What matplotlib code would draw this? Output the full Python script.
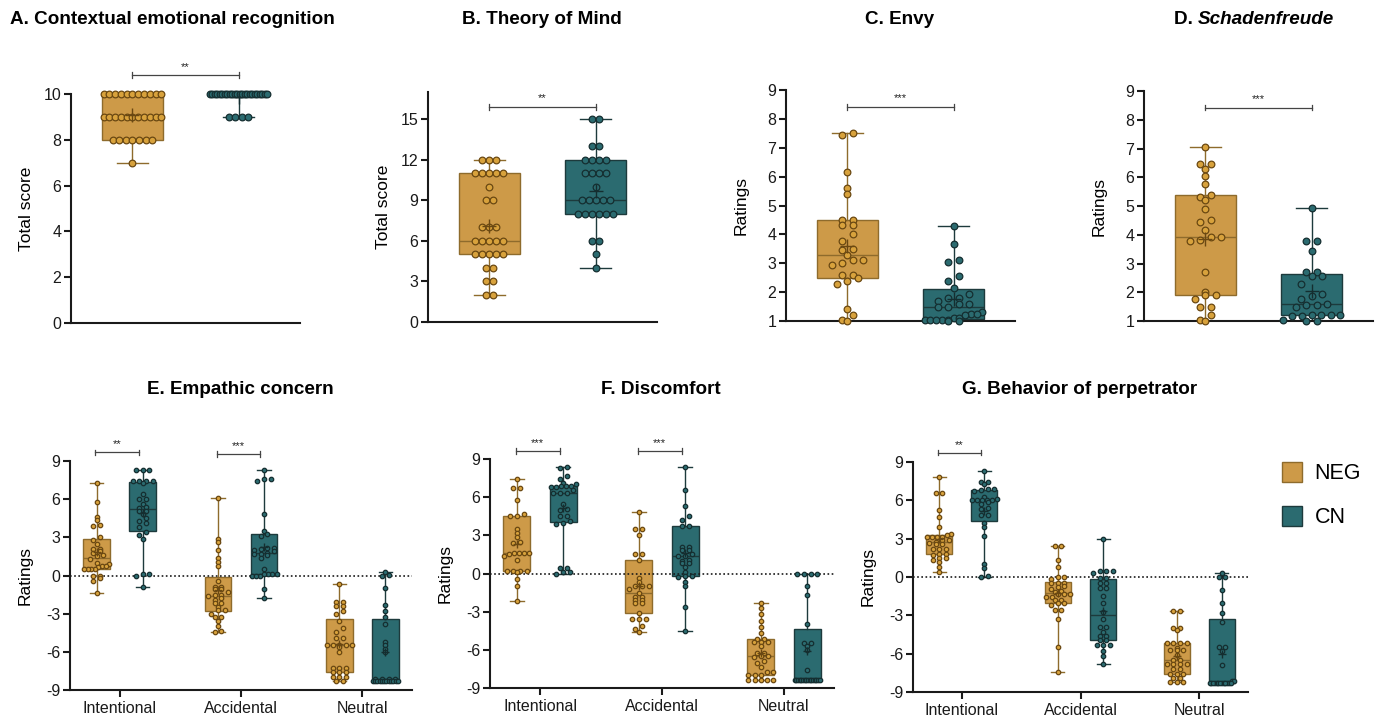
import numpy as np
import matplotlib
matplotlib.use("Agg")
import matplotlib.pyplot as plt
from matplotlib.patches import Patch

plt.rcParams['font.family'] = ['Liberation Sans', 'DejaVu Sans']
plt.rcParams['axes.unicode_minus'] = False

# ── data ───────────────────────────────────────────────────
groups = ["NEG", "CN"]
conditions = ["Intentional", "Accidental", "Neutral"]

# A. Contextual emotional recognition (total score)
ecr_neg = [10, 10, 10, 10, 10, 10, 10, 10, 10, 10, 10,
           9, 9, 9, 9, 9, 9, 9, 9, 9, 9, 9,
           8, 8, 8, 8, 8, 8, 8, 7]
ecr_cn = [10, 10, 10, 10, 10, 10, 10, 10, 10, 10, 10, 10,
          10, 10, 10, 10, 10, 10, 10, 10, 10, 10, 10, 10,
          9, 9, 9, 9]

# B. Theory of Mind (total score)
tom_neg = [12, 12, 12, 11, 11, 11, 11, 11, 10, 9, 9, 7, 7, 7,
           6, 6, 6, 6, 6, 5, 5, 5, 5, 5, 4, 4, 3, 3, 2, 2]
tom_cn = [15, 15, 13, 13, 12, 12, 12, 12, 11, 11, 11, 11, 10,
          9, 9, 9, 9, 9, 8, 8, 8, 8, 8, 8, 6, 6, 5, 4]

# C. Envy (ratings)
envy_neg = [7.45, 7.5, 6.17, 5.6, 5.4, 4.5, 4.5, 4.33, 4.33, 4.0, 3.78,
            3.45, 3.5, 3.28, 3.1, 3.1, 3.0, 2.95, 2.6, 2.6, 2.5, 2.4,
            2.28, 1.4, 1.2, 1.05, 1.0]
envy_cn = [4.28, 3.67, 3.1, 3.05, 2.55, 2.4, 2.15, 1.93, 1.78, 1.78, 1.68,
           1.6, 1.6, 1.5, 1.5, 1.3, 1.25, 1.25, 1.22, 1.12, 1.12,
           1.05, 1.05, 1.05, 1.05, 1.05, 1.0, 1.0]

# D. Schadenfreude (ratings)
schad_neg = [7.05, 6.45, 6.45, 6.27, 6.05, 5.78, 5.4, 5.32, 5.2, 4.9,
             4.5, 4.45, 4.18, 3.93, 3.93, 3.83, 3.78, 2.72, 2.0, 1.9,
             1.9, 1.78, 1.5, 1.5, 1.22, 1.05, 1.0]
schad_cn = [4.93, 3.78, 3.78, 3.45, 2.72, 2.72, 2.55, 2.55, 2.27, 1.93,
            1.88, 1.78, 1.6, 1.55, 1.55, 1.5, 1.22, 1.22, 1.22, 1.22,
            1.18, 1.18, 1.05, 1.0, 1.0]

# E. Empathic concern
emp_int_neg = [7.3, 5.8, 4.6, 4.4, 4.0, 3.9, 3.05, 2.8, 2.5, 2.1, 2.1, 1.8,
               1.9, 1.6, 1.5, 1.3, 1.0, 0.9, 0.75, 0.75, 0.65, 0.55, 0.55,
               0.55, 0.55, 0.0, 0.0, -0.2, -0.45, -1.4]
emp_int_cn = [8.3, 8.3, 8.3, 7.45, 7.4, 7.4, 7.4, 7.3, 6.4, 6.0, 6.0, 5.6,
              5.4, 5.3, 5.1, 5.1, 4.8, 4.5, 4.3, 4.1, 3.8, 3.4, 3.2, 2.9,
              0.1, 0.1, 0.0, -0.9]
emp_acc_neg = [6.1, 2.9, 2.65, 2.0, 1.35, 1.1, 0.75, -0.45, -0.9, -0.9,
               -1.1, -1.1, -1.3, -1.55, -1.55, -1.6, -1.75, -1.9, -2.15,
               -2.15, -2.45, -2.7, -2.7, -3.0, -3.25, -3.25, -3.55, -4.0,
               -4.35, -4.45]
emp_acc_cn = [8.3, 7.6, 7.6, 7.45, 4.8, 3.5, 3.1, 3.3, 2.2, 2.2, 2.1, 2.0,
              1.9, 1.8, 1.7, 1.7, 1.6, 1.4, 0.5, 0.15, 0.15, 0.1, 0.1,
              0.0, 0.0, 0.0, -1.1, -1.75]
emp_neu_neg = [-0.7, -2.05, -2.05, -2.4, -2.4, -2.8, -3.0, -3.6, -4.15,
               -4.45, -4.9, -4.9, -5.45, -5.45, -5.45, -5.45, -5.6, -6.0,
               -7.3, -7.3, -7.3, -7.6, -7.6, -7.6, -8.0, -8.0, -8.0, -8.3,
               -8.3, -5.5]
emp_neu_cn = [0.3, 0.05, 0.0, -1.0, -2.3, -2.8, -3.3, -3.8, -5.2, -5.5,
              -5.8, -6.0, -8.1, -8.1, -8.1, -8.1, -8.3, -8.3, -8.3, -8.3,
              -8.3, -8.3, -8.3, -8.3, -8.3, -8.3, -8.3, -8.3]

# F. Discomfort
dis_int_neg = [7.4, 6.7, 6.7, 5.8, 4.7, 4.55, 4.55, 3.5, 3.2, 2.9, 2.5,
               2.4, 1.6, 1.6, 1.6, 1.6, 1.5, 1.35, 1.05,
               0.2, 0.2, 0.2, 0.2, 0.15, -0.4, -0.95, -2.2]
dis_int_cn = [8.4, 8.3, 7.7, 7.4, 7.1, 7.0, 6.9, 6.85, 6.85, 6.8, 6.8,
              6.6, 6.35, 6.3, 6.3, 5.5, 5.1, 5.0, 4.5, 4.5, 4.1, 4.0,
              3.9, 0.4, 0.4, 0.1, 0.1, 0.0]
dis_acc_neg = [4.85, 3.5, 3.5, 3.0, 1.5, 1.5, 1.05, -0.35, -0.7, -1.0,
               -1.0, -1.0, -1.25, -1.55, -1.85, -1.85, -2.05,
               -2.05, -2.35, -2.35, -3.1, -3.55, -3.55, -3.55,
               -4.15, -4.4, -4.6]
dis_acc_cn = [8.35, 6.6, 5.3, 4.5, 4.2, 3.7, 3.7, 2.05, 2.05, 1.85,
              1.85, 1.5, 1.35, 1.35, 1.1, 1.0, 0.8, 0.8, 0.5, 0.15, -0.3,
              -0.22, -0.22, -0.7, -0.95, -2.65, -4.55]
dis_neu_neg = [-2.3, -2.7, -3.2, -3.7, -4.2, -4.7, -5.15, -5.15, -5.35,
               -5.35, -5.35, -5.7, -6.25, -6.25, -6.48, -6.48, -6.6, -6.85,
               -7.0, -7.35, -7.75, -7.75, -8.0, -8.0, -8.0,
               -8.35, -8.35, -8.35, -8.35, -8.35]
dis_neu_cn = [0.0, 0.0, 0.0, 0.0, -1.0, -1.66, -4.0, -5.45, -5.45, -5.72,
              -6.0, -7.56, -8.35, -8.35, -8.35, -8.35, -8.35, -8.35, -8.35,
              -8.35, -8.35, -8.35, -8.35, -8.35, -8.35, -8.35, -8.35, -8.35]

# G. Behavior of perpetrator
beh_int_neg = [7.8, 6.6, 6.6, 5.25, 4.7, 3.9, 3.4, 3.3, 3.1, 3.1, 3.1, 3.1,
               2.9, 2.9, 2.75, 2.7, 2.55, 2.55, 2.2, 2.2, 2.2,
               1.8, 1.8, 1.75, 1.5, 1.5, 1.3, 1.15, 0.8, 0.4]
beh_int_cn = [8.3, 7.45, 7.45, 7.3, 6.9, 6.9, 6.8, 6.75, 6.3, 6.1, 6.05,
              6.05, 6.05, 6.05, 6.05, 5.9, 5.75, 5.4, 5.35, 4.85, 4.85,
              4.2, 3.9, 3.2, 1.0, 0.7, 0.1, 0.0]
beh_acc_neg = [2.45, 2.45, 1.35, 0.8, 0.0, 0.0, -0.15, -0.5, -0.5, -0.5,
               -0.7, -0.8, -0.9, -1.1, -1.2, -1.35, -1.35, -1.35, -1.55,
               -1.55, -1.8, -1.8, -2.0, -2.0, -2.2, -2.55, -2.55, -3.25,
               -5.5, -7.45]
beh_acc_cn = [2.95, 0.45, 0.45, 0.45, 0.35, -0.05, -0.05, -0.45, -0.45,
              -0.85, -0.85, -1.45, -2.0, -2.7, -3.3, -3.9, -3.9, -4.3,
              -4.6, -4.6, -4.9, -4.9, -5.35, -5.35, -5.35, -5.8, -6.2,
              -6.8]
beh_neu_neg = [-2.65, -2.65, -4.0, -4.0, -4.15, -5.17, -5.17, -5.17, -5.17,
               -5.53, -5.75, -5.75, -5.75, -6.13, -6.47, -6.47, -6.8, -6.8,
               -6.8, -6.8, -7.17, -7.17, -7.62, -7.62, -7.62, -7.9, -7.9,
               -8.22, -8.22, -8.22]
beh_neu_cn = [0.3, 0.0, 0.0, -1.0, -2.0, -2.8, -3.5, -5.5, -5.5, -5.8,
              -6.9, -8.15, -8.15, -8.3, -8.3, -8.3, -8.3, -8.3, -8.3, -8.3,
              -8.3, -8.3, -8.3, -8.3, -8.3, -8.3]

# significance labels
sig_top = ["**", "**", "***", "***"]
sig_emp = ["**", "***", ""]
sig_dis = ["***", "***", ""]
sig_beh = ["**", "", ""]

# ── style ──────────────────────────────────────────────────
BOX_FACE = {"NEG": "#CD9A48", "CN": "#2B6B70"}
BOX_EDGE = {"NEG": "#8E6B2C", "CN": "#1D3A3C"}
DOT_FACE = {"NEG": "#D8A23C", "CN": "#2B6B70"}
DOT_EDGE = {"NEG": "#6A4812", "CN": "#152E30"}
FIG_W, FIG_H = 1384, 718
TITLE_FS = 13.6


def ax_rect(left, top, right, bottom):
    return [left / FIG_W, 1 - bottom / FIG_H, (right - left) / FIG_W, (bottom - top) / FIG_H]


def spread(values, binh, step, maxhalf):
    """column-scatter offsets: points in the same value bin get spread sideways"""
    vals = np.asarray(values, float)
    offs = np.zeros(len(vals))
    keys = np.round(vals / binh).astype(int)
    for k in np.unique(keys):
        idx = np.where(keys == k)[0]
        idx = idx[np.argsort(vals[idx])]
        n = len(idx)
        s = step if n < 2 else min(step, 2 * maxhalf / (n - 1))
        offs[idx] = (np.arange(n) - (n - 1) / 2) * s
    return offs


def draw_group(ax, values, pos, grp, width, binh, step, ms):
    v = np.asarray(values, float)
    q1, med, q3 = np.percentile(v, [25, 50, 75], method="weibull")
    stats = dict(med=med, q1=q1, q3=q3, whislo=v.min(), whishi=v.max(),
                 mean=v.mean(), fliers=[])
    ax.bxp([stats], positions=[pos], widths=width, capwidths=width * 0.5,
           patch_artist=True, showmeans=True, showfliers=False,
           boxprops=dict(facecolor=BOX_FACE[grp], edgecolor=BOX_EDGE[grp], lw=1.0),
           medianprops=dict(color=BOX_EDGE[grp], lw=1.0),
           whiskerprops=dict(color=BOX_EDGE[grp], lw=1.0),
           capprops=dict(color=BOX_EDGE[grp], lw=1.0),
           meanprops=dict(marker="+", markeredgecolor=DOT_EDGE[grp], markersize=ms * 2.0,
                          markeredgewidth=1.0, zorder=5),
           zorder=2)
    offs = spread(v, binh, step, width * 0.47)
    ax.plot(pos + offs, v, "o", ms=ms, mfc=DOT_FACE[grp], mec=DOT_EDGE[grp],
            mew=0.9, clip_on=False, zorder=4)


def bracket(ax, x0, x1, y, label, tick, fs):
    ax.plot([x0, x1], [y, y], color="#444444", lw=0.9, clip_on=False, zorder=6)
    for x in (x0, x1):
        ax.plot([x, x], [y - tick, y + tick], color="#444444", lw=0.9,
                clip_on=False, zorder=6)
    ax.text((x0 + x1) / 2, y + tick * 1.2, label, ha="center", va="bottom",
            fontsize=fs, color="#222222", clip_on=False)


def style_axes(ax, width_px):
    for side in ("top", "right"):
        ax.spines[side].set_visible(False)
    for side in ("left", "bottom"):
        ax.spines[side].set_linewidth(1.5)
        ax.spines[side].set_color("#1a1a1a")
    ax.tick_params(axis="y", length=5, width=1.5, labelsize=11.5, pad=2, colors="#1a1a1a")
    ax.yaxis.set_label_coords(-37 / width_px, 0.5)


fig = plt.figure(figsize=(FIG_W / 100, FIG_H / 100), dpi=100)

# ── top row ────────────────────────────────────────────────
top_panels = [
    ("A. Contextual emotional recognition", ecr_neg, ecr_cn, "Total score",
     (0, 10), np.arange(0, 11, 2), (71, 94, 300, 323), 10.83, 0.28, 0.062),
    ("B. Theory of Mind", tom_neg, tom_cn, "Total score",
     (0, 17), np.arange(0, 16, 3), (428, 92, 657, 322), 15.9, 0.48, 0.066),
    ("C. Envy", envy_neg, envy_cn, "Ratings",
     (1, 9), np.arange(1, 10, 1), (786, 90, 1015, 321), 8.42, 0.3, 0.1),
    ("D. Schadenfreude", schad_neg, schad_cn, "Ratings",
     (1, 9), np.arange(1, 10, 1), (1144, 91, 1373, 321), 8.42, 0.3, 0.1),
]
for i, (title, neg, cn, ylab, ylim, yticks, box, ybr, binh, step) in enumerate(top_panels):
    ax = fig.add_axes(ax_rect(*box))
    draw_group(ax, neg, 0, "NEG", 0.58, binh, step, 4.8)
    draw_group(ax, cn, 1, "CN", 0.58, binh, step, 4.8)
    ax.set_xlim(-0.58, 1.58)
    ax.set_ylim(*ylim)
    ax.set_yticks(yticks)
    ax.set_xticks([])
    style_axes(ax, box[2] - box[0])
    ax.set_ylabel(ylab, fontsize=12.5)
    br_tick = (ylim[1] - ylim[0]) * 0.012
    bracket(ax, 0, 1, ybr, sig_top[i], br_tick, 8)

fig.text(10 / FIG_W, 1 - 20 / FIG_H, top_panels[0][0], fontsize=TITLE_FS, fontweight="bold",
         ha="left", va="center")
fig.text(542 / FIG_W, 1 - 20 / FIG_H, top_panels[1][0], fontsize=TITLE_FS, fontweight="bold",
         ha="center", va="center")
fig.text(900 / FIG_W, 1 - 20 / FIG_H, top_panels[2][0], fontsize=TITLE_FS, fontweight="bold",
         ha="center", va="center")
fig.text(1198 / FIG_W, 1 - 20 / FIG_H, "D. ", fontsize=TITLE_FS, fontweight="bold",
         ha="right", va="center")
fig.text(1198 / FIG_W, 1 - 20 / FIG_H, "Schadenfreude", fontsize=TITLE_FS, fontweight="bold",
         fontstyle="italic", ha="left", va="center")

# ── bottom row ─────────────────────────────────────────────
bottom_panels = [
    ("E. Empathic concern", [emp_int_neg, emp_acc_neg, emp_neu_neg],
     [emp_int_cn, emp_acc_cn, emp_neu_cn], sig_emp, [9.7, 9.55, 0],
     (70, 461, 412, 690), 240),
    ("F. Discomfort", [dis_int_neg, dis_acc_neg, dis_neu_neg],
     [dis_int_cn, dis_acc_cn, dis_neu_cn], sig_dis, [9.63, 9.63, 0],
     (490, 459, 834, 688), 661),
    ("G. Behavior of perpetrator", [beh_int_neg, beh_acc_neg, beh_neu_neg],
     [beh_int_cn, beh_acc_cn, beh_neu_cn], sig_beh, [9.73, 0, 0],
     (913, 462, 1248, 692), 1080),
]
for title, negs, cns, sigs, ybrs, box, tx in bottom_panels:
    ax = fig.add_axes(ax_rect(*box))
    ax.axhline(0, color="#1a1a1a", lw=1.2, ls=(0, (1, 1.5)), zorder=3)
    for j in range(len(conditions)):
        draw_group(ax, negs[j], j - 0.19, "NEG", 0.22, 0.36, 0.055, 3.2)
        draw_group(ax, cns[j], j + 0.19, "CN", 0.22, 0.36, 0.055, 3.2)
        if sigs[j]:
            bracket(ax, j - 0.2, j + 0.16, ybrs[j], sigs[j], 0.2, 8)
    ax.set_xlim(-0.41, 2.41)
    ax.set_ylim(-9, 9)
    ax.set_yticks(np.arange(-9, 10, 3))
    ax.set_xticks(range(len(conditions)))
    ax.set_xticklabels(conditions)
    style_axes(ax, box[2] - box[0])
    ax.tick_params(axis="x", length=5, width=1.5, labelsize=11.5, pad=3, colors="#1a1a1a")
    ax.set_ylabel("Ratings", fontsize=12.5)
    fig.text(tx / FIG_W, 1 - 390 / FIG_H, title, fontsize=TITLE_FS, fontweight="bold",
             ha="center", va="center")

handles = [Patch(facecolor=BOX_FACE[g], edgecolor=BOX_EDGE[g], lw=1.0) for g in groups]
fig.legend(handles, groups, loc="center left", bbox_to_anchor=(1263 / FIG_W, 1 - 495 / FIG_H),
           frameon=False, fontsize=15.5, handlelength=0.9, handleheight=1.1,
           handletextpad=0.6, labelspacing=1.0)

fig.savefig("out.png", dpi=100)
